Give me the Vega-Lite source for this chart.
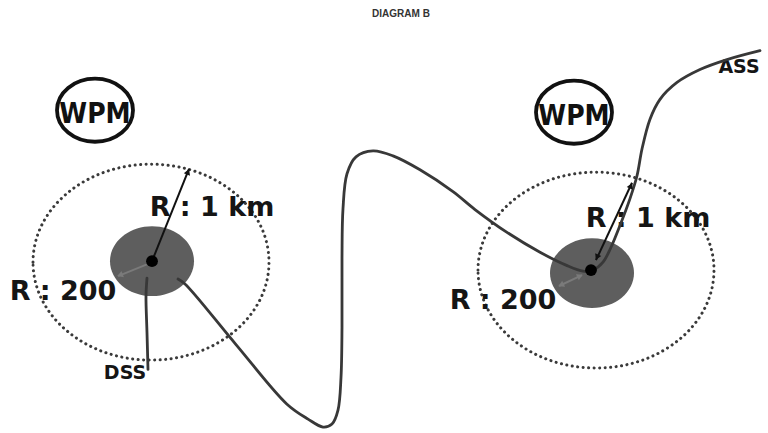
{
  "$schema": "https://vega.github.io/schema/vega-lite/v6.json",
  "width": 768,
  "height": 433,
  "autosize": {"type": "fit", "contains": "padding"},
  "padding": 0,
  "background": "#ffffff",
  "config": {"view": {"stroke": null}},
  "datasets": {
    "rings": [{"x": 151, "y": 264, "zone": "left"}, {"x": 596, "y": 272, "zone": "right"}],
    "disks": [{"x": 152, "y": 263, "zone": "left"}, {"x": 592, "y": 275, "zone": "right"}],
    "dots": [{"x": 152, "y": 263, "zone": "left"}, {"x": 591, "y": 272, "zone": "right"}],
    "wpm": [{"x": 95, "y": 111, "label": "WPM", "ty": 124}, {"x": 574, "y": 113, "label": "WPM", "ty": 126}],
    "paths": [
      {"path": "dss", "i": 0, "x": 148, "y": 372},
      {"path": "dss", "i": 1, "x": 147, "y": 335},
      {"path": "dss", "i": 2, "x": 146, "y": 298},
      {"path": "dss", "i": 3, "x": 147, "y": 280},
      {"path": "main", "i": 0, "x": 178, "y": 281},
      {"path": "main", "i": 1, "x": 185, "y": 286},
      {"path": "main", "i": 2, "x": 236, "y": 347},
      {"path": "main", "i": 3, "x": 287, "y": 407},
      {"path": "main", "i": 4, "x": 308, "y": 422},
      {"path": "main", "i": 5, "x": 323, "y": 430},
      {"path": "main", "i": 6, "x": 332, "y": 427},
      {"path": "main", "i": 7, "x": 338, "y": 413},
      {"path": "main", "i": 8, "x": 341, "y": 380},
      {"path": "main", "i": 9, "x": 342, "y": 330},
      {"path": "main", "i": 10, "x": 342, "y": 260},
      {"path": "main", "i": 11, "x": 343, "y": 210},
      {"path": "main", "i": 12, "x": 347, "y": 175},
      {"path": "main", "i": 13, "x": 356, "y": 158},
      {"path": "main", "i": 14, "x": 373, "y": 152},
      {"path": "main", "i": 15, "x": 393, "y": 157},
      {"path": "main", "i": 16, "x": 420, "y": 171},
      {"path": "main", "i": 17, "x": 453, "y": 193},
      {"path": "main", "i": 18, "x": 475, "y": 211},
      {"path": "main", "i": 19, "x": 507, "y": 234},
      {"path": "main", "i": 20, "x": 540, "y": 254},
      {"path": "main", "i": 21, "x": 566, "y": 267},
      {"path": "main", "i": 22, "x": 583, "y": 273},
      {"path": "main", "i": 23, "x": 593, "y": 272},
      {"path": "main", "i": 24, "x": 603, "y": 264},
      {"path": "main", "i": 25, "x": 611, "y": 249},
      {"path": "main", "i": 26, "x": 620, "y": 227},
      {"path": "main", "i": 27, "x": 630, "y": 200},
      {"path": "main", "i": 28, "x": 637, "y": 177},
      {"path": "main", "i": 29, "x": 642, "y": 150},
      {"path": "main", "i": 30, "x": 650, "y": 120},
      {"path": "main", "i": 31, "x": 660, "y": 100},
      {"path": "main", "i": 32, "x": 677, "y": 83},
      {"path": "main", "i": 33, "x": 700, "y": 70},
      {"path": "main", "i": 34, "x": 727, "y": 60},
      {"path": "main", "i": 35, "x": 760, "y": 51}
    ],
    "arrows": [
      {"kind": "radius", "x": 152, "y": 263, "x2": 189, "y2": 170},
      {"kind": "buffer", "x": 150, "y": 265, "x2": 118, "y2": 278},
      {"kind": "radius", "x": 596, "y": 262, "x2": 632, "y2": 184},
      {"kind": "buffer", "x": 582, "y": 277, "x2": 559, "y2": 288}
    ],
    "heads": [
      {"kind": "radius", "x": 188, "y": 173, "bearing": 22},
      {"kind": "buffer", "x": 120, "y": 277, "bearing": 249},
      {"kind": "radius", "x": 631, "y": 187, "bearing": 25},
      {"kind": "radius", "x": 597, "y": 259, "bearing": 205},
      {"kind": "buffer", "x": 561, "y": 287, "bearing": 244},
      {"kind": "buffer", "x": 580, "y": 278, "bearing": 64}
    ],
    "rlabels": [
      {"x": 212, "y": 218, "label": "R : 1 km"},
      {"x": 648, "y": 229, "label": "R : 1 km"},
      {"x": 63, "y": 302, "label": "R : 200"},
      {"x": 503, "y": 311, "label": "R : 200"}
    ],
    "ends": [
      {"x": 125, "y": 382, "label": "DSS"},
      {"x": 739, "y": 74, "label": "ASS"}
    ],
    "title": [{"x": 401, "y": 17, "label": "DIAGRAM B"}]
  },
  "encoding": {
    "x": {"field": "x", "type": "quantitative", "scale": {"domain": [0, 768], "nice": false, "zero": false}, "axis": null},
    "y": {"field": "y", "type": "quantitative", "scale": {"domain": [0, 433], "nice": false, "zero": false, "reverse": true}, "axis": null}
  },
  "layer": [
    {
      "data": {"name": "rings"},
      "mark": {"type": "point", "shape": "M-1,0A1,0.83,0,1,1,1,0A1,0.83,0,1,1,-1,0Z", "size": 55696, "filled": false, "stroke": "#3a3a3a", "strokeWidth": 3, "strokeDash": [0.1, 5.4], "strokeCap": "round", "opacity": 1}
    },
    {
      "data": {"name": "disks"},
      "mark": {"type": "point", "shape": "M-1,0A1,0.83,0,1,1,1,0A1,0.83,0,1,1,-1,0Z", "size": 7056, "filled": true, "fill": "#5e5e5e", "strokeWidth": 0, "opacity": 1}
    },
    {
      "data": {"name": "rlabels"},
      "mark": {"type": "text", "font": "DejaVu Sans", "fontWeight": "bold", "fontSize": 27, "align": "center", "baseline": "alphabetic", "fill": "#151515"},
      "encoding": {"text": {"field": "label"}}
    },
    {
      "data": {"name": "ends"},
      "mark": {"type": "text", "font": "DejaVu Sans", "fontWeight": "bold", "fontSize": 19, "align": "center", "baseline": "alphabetic", "fill": "#151515"},
      "encoding": {"text": {"field": "label"}}
    },
    {
      "data": {"name": "paths"},
      "mark": {"type": "line", "interpolate": "catmull-rom", "stroke": "#383838", "strokeWidth": 2.8, "strokeCap": "round"},
      "encoding": {"detail": {"field": "path"}, "order": {"field": "i", "type": "quantitative"}}
    },
    {
      "data": {"name": "arrows"},
      "mark": {"type": "rule", "strokeWidth": 2},
      "encoding": {
        "x2": {"field": "x2"},
        "y2": {"field": "y2"},
        "color": {"field": "kind", "type": "nominal", "scale": {"domain": ["radius", "buffer"], "range": ["#111111", "#7a7a7a"]}, "legend": null}
      }
    },
    {
      "data": {"name": "heads"},
      "mark": {"type": "point", "shape": "triangle-up", "filled": true, "size": 45, "opacity": 1},
      "encoding": {
        "angle": {"field": "bearing", "type": "quantitative", "scale": null},
        "color": {"field": "kind", "type": "nominal", "scale": {"domain": ["radius", "buffer"], "range": ["#111111", "#7a7a7a"]}, "legend": null}
      }
    },
    {
      "data": {"name": "dots"},
      "mark": {"type": "point", "shape": "circle", "filled": true, "fill": "#000000", "size": 140, "opacity": 1}
    },
    {
      "data": {"name": "wpm"},
      "mark": {"type": "point", "shape": "M-1,0A1,0.83,0,1,1,1,0A1,0.83,0,1,1,-1,0Z", "size": 5776, "filled": false, "stroke": "#111111", "strokeWidth": 3.8, "opacity": 1}
    },
    {
      "data": {"name": "wpm"},
      "mark": {"type": "text", "font": "DejaVu Sans Condensed, Liberation Sans, sans-serif", "fontWeight": "bold", "fontSize": 28, "align": "center", "baseline": "alphabetic", "fill": "#111111"},
      "encoding": {"y": {"field": "ty", "type": "quantitative"}, "text": {"field": "label"}}
    },
    {
      "data": {"name": "title"},
      "mark": {"type": "text", "font": "Liberation Sans", "fontWeight": "bold", "fontSize": 10, "align": "center", "baseline": "alphabetic", "fill": "#333333"},
      "encoding": {"text": {"field": "label"}}
    }
  ]
}
